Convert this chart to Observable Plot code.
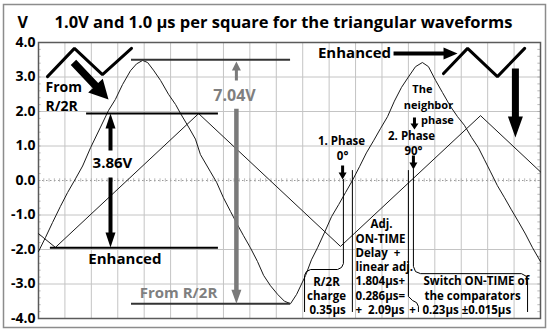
<!DOCTYPE html>
<html><head><meta charset="utf-8">
<script src="https://cdn.jsdelivr.net/npm/d3@7"></script>
<script src="https://cdn.jsdelivr.net/npm/@observablehq/plot@0.6"></script>
<style>body{margin:0;background:#fff}#chart{width:550px;height:332px}</style>
</head><body><div id="chart"></div>
<script>
// ---- data (time in µs, voltage in V) ----
const yTicks = [-4, -3, -2, -1, 0, 1, 2, 3, 4];
const xGrid = [0,1,2,3,4,5,6,7,8,9,10,11,12,13,14,15,16,17,18,19];
// enhanced triangular waveform
const triT = [0, 0.64, 6.06, 11.43, 16.73, 19];
const triV = [-1.54, -1.94, 1.94, -1.91, 1.88, 0.25];
// waveform from the R/2R network
const r2rT = [0,0.265,0.53,0.83,1.10,1.40,1.67,1.97,2.35,2.65,2.91,3.18,3.48,3.71,3.94,4.13,4.35,4.62,4.92,5.19,5.37,5.68,5.94,6.13,6.51,6.74,7.00,7.27,7.53,7.76,8.02,8.29,8.52,8.78,9.05,9.31,9.54,9.77,10.11,10.33,10.56,10.83,11.09,11.36,11.62,11.88,12.15,12.41,12.68,12.94,13.21,13.47,13.74,14.00,14.27,14.53,14.76,15.03,15.29,15.59,15.86,16.12,16.39,16.65,16.88,17.11,17.37,17.64,17.90,18.17,18.43,18.70,19.00];
const r2rV = [-2.06,-1.65,-1.22,-0.75,-0.35,0.05,0.42,0.95,1.55,2.03,2.35,2.78,3.18,3.38,3.48,3.42,3.2,2.9,2.5,2.2,1.95,1.55,1.2,0.75,0.25,-0.05,-0.5,-0.9,-1.28,-1.6,-1.95,-2.35,-2.75,-3.05,-3.3,-3.5,-3.57,-3.3,-2.75,-2.3,-1.95,-1.5,-1.05,-0.7,-0.35,0.0,0.4,0.8,1.15,1.5,1.85,2.3,2.7,3.0,3.3,3.42,3.3,2.9,2.55,2.15,1.85,1.6,1.25,0.95,0.6,0.25,-0.15,-0.5,-0.85,-1.2,-1.55,-1.95,-2.35];

// ---- annotations (positions in µs / V) ----
const levelLines = [
  {v: 3.50, t1: 3.52, t2: 9.54, c: "#333"},
  {v: -3.57, t1: 3.52, t2: 9.54, c: "#333"},
  {v: 1.94, t1: 1.82, t2: 6.81, c: "#000"},
  {v: -1.95, t1: 0.45, t2: 6.81, c: "#000"}
];
const zigL = {t: [0.34, 1.36, 2.42, 3.52], v: [3.01, 3.83, 3.07, 3.83]};
const zigR = {t: [15.33, 16.24, 17.37, 18.40], v: [3.10, 3.83, 3.01, 3.83]};
const brackets = [
  {t: [11.54, 11.54, 11.47, 11.32, 10.30, 10.14, 10.07, 10.07], v: [0.03, -2.41, -2.52, -2.58, -2.58, -2.64, -2.75, -3.80]},
  {t: [11.88, 11.88], v: [0.29, -3.80]},
  {t: [14.00, 14.00, 14.16, 14.31, 14.38, 14.38], v: [0.29, -3.36, -3.48, -3.54, -3.65, -3.80]},
  {t: [14.19, 14.19, 14.27, 14.46, 18.28, 18.47, 18.51, 18.51], v: [0.32, -2.49, -2.64, -2.70, -2.70, -2.78, -2.93, -3.80]}
];
const arrows = [
  {t: 2.65, v: 2.35, len: 51, rot: 136.6, sw: 7.5, hw: 10, hl: 19, c: "#000"},
  {t: 15.86, v: 3.68, len: 64, rot: 90, sw: 4, hw: 6, hl: 14, c: "#000"},
  {t: 18.05, v: 1.25, len: 69, rot: 180, sw: 7, hw: 7.5, hl: 21, c: "#000"},
  {t: 2.725, v: 1.94, len: 37, rot: 0, sw: 4, hw: 5, hl: 15, c: "#000"},
  {t: 2.725, v: -1.94, len: 70, rot: 180, sw: 4, hw: 5, hl: 15, c: "#000"},
  {t: 7.49, v: 3.45, len: 19, rot: 0, sw: 3, hw: 4.5, hl: 9, c: "#7a7a7a"},
  {t: 7.49, v: -3.57, len: 195, rot: 180, sw: 4.5, hw: 5, hl: 14, c: "#7a7a7a"},
  {t: 14.23, v: 1.48, len: 12, rot: 180, sw: 3, hw: 4, hl: 6, c: "#000"},
  {t: 14.19, v: 0.32, len: 14, rot: 180, sw: 3, hw: 4, hl: 7, c: "#000"},
  {t: 11.51, v: 0.03, len: 14, rot: 180, sw: 3, hw: 4, hl: 7, c: "#000"}
];
const labels = [
  {t: 0.265, v: 2.70, s: "From", fs: 14, a: "start", c: "#000"},
  {t: 0.265, v: 2.14, s: "R/2R", fs: 14, a: "start", c: "#000"},
  {t: 2.80, v: 0.49, s: "3.86V", fs: 15, a: "middle", c: "#000"},
  {t: 3.27, v: -2.29, s: "Enhanced", fs: 15, a: "middle", c: "#000"},
  {t: 7.42, v: 2.46, s: "7.04V", fs: 16, a: "middle", c: "#7f7f7f"},
  {t: 5.30, v: -3.28, s: "From R/2R", fs: 15, a: "middle", c: "#7f7f7f"},
  {t: 11.96, v: 3.68, s: "Enhanced", fs: 15, a: "middle", c: "#000"},
  {t: 14.53, v: 2.64, s: "The", fs: 11, a: "middle", c: "#000"},
  {t: 14.76, v: 2.17, s: "neighbor", fs: 11, a: "middle", c: "#000"},
  {t: 15.10, v: 1.73, s: "phase", fs: 11, a: "middle", c: "#000"},
  {t: 14.12, v: 1.27, s: "2. Phase", fs: 11.5, a: "middle", c: "#000"},
  {t: 14.19, v: 0.85, s: "90°", fs: 11.5, a: "middle", c: "#000"},
  {t: 11.47, v: 1.15, s: "1. Phase", fs: 11.5, a: "middle", c: "#000"},
  {t: 11.51, v: 0.71, s: "0°", fs: 11.5, a: "middle", c: "#000"},
  {t: 10.90, v: -2.96, s: "R/2R", fs: 11.5, a: "middle", c: "#000"},
  {t: 10.90, v: -3.36, s: "charge", fs: 11.5, a: "middle", c: "#000"},
  {t: 10.94, v: -3.77, s: "0.35µs", fs: 11.5, a: "middle", c: "#000"},
  {t: 12.98, v: -1.28, s: "Adj.", fs: 11.5, a: "middle", c: "#000"},
  {t: 12.00, v: -1.70, s: "ON-TIME", fs: 11.5, a: "start", c: "#000"},
  {t: 12.00, v: -2.10, s: "Delay  +", fs: 11.5, a: "start", c: "#000"},
  {t: 12.00, v: -2.52, s: "linear adj.", fs: 11.5, a: "start", c: "#000"},
  {t: 12.00, v: -2.93, s: "1.804µs+", fs: 11.5, a: "start", c: "#000"},
  {t: 12.00, v: -3.35, s: "0.286µs=", fs: 11.5, a: "start", c: "#000"},
  {t: 12.00, v: -3.77, s: "+  2.09µs", fs: 11.5, a: "start", c: "#000"},
  {t: 14.16, v: -3.77, s: "+", fs: 11.5, a: "middle", c: "#000"},
  {t: 14.57, v: -2.93, s: "Switch ON-TIME of", fs: 11.5, a: "start", c: "#000"},
  {t: 14.61, v: -3.35, s: "the comparators", fs: 11.5, a: "start", c: "#000"},
  {t: 14.53, v: -3.77, s: "0.23µs ±0.015µs", fs: 11.5, a: "start", c: "#000"}
];
const titleText = "1.0V and 1.0 µs per square for the triangular waveforms";
const unitText = "V";

// ---- build ----
const tri = triT.map((t, i) => ({t, v: triV[i]}));
const r2r = r2rT.map((t, i) => ({t, v: r2rV[i]}));
const toRows = (o) => o.t.map((t, i) => ({t, v: o.v[i]}));
function blockArrow(sw, hw, hl) {
  return {draw(ctx, l) {
    const b = -(l - hl);
    ctx.moveTo(-sw / 2, 0); ctx.lineTo(-sw / 2, b); ctx.lineTo(-hw, b); ctx.lineTo(0, -l);
    ctx.lineTo(hw, b); ctx.lineTo(sw / 2, b); ctx.lineTo(sw / 2, 0); ctx.closePath();
  }};
}
const minorV = d3.range(-40, 41, 2).map(d => d / 10);
const minorT = d3.range(0, 191, 2).map(d => d / 10);

const plot = Plot.plot({
  width: 550, height: 332,
  marginLeft: 38, marginRight: 10, marginTop: 42, marginBottom: 14,
  style: {fontFamily: "'Open Sans', sans-serif", fontSize: "14px", fontWeight: "700", background: "#fff", color: "#000"},
  x: {domain: [0, 19], axis: null},
  y: {domain: [-4, 4], ticks: yTicks, tickFormat: d => d.toFixed(1), tickSize: 0, tickPadding: 3, label: null},
  marks: [
    Plot.ruleX(xGrid.slice(1, -1), {stroke: "#c4c4c4", strokeWidth: 1}),
    Plot.ruleY(yTicks.filter(d => d !== 0 && Math.abs(d) !== 4), {stroke: "#c4c4c4", strokeWidth: 1}),
    Plot.ruleY([0], {stroke: "#999", strokeDasharray: "1.5,2.5"}),
    Plot.ruleX(minorT, {y1: -0.05, y2: 0.05, stroke: "#aaa", strokeWidth: 0.8}),
    Plot.ruleY(minorV, {x1: 0, x2: 0.1, stroke: "#aaa", strokeWidth: 0.8}),
    Plot.ruleY(minorV, {x1: 18.9, x2: 19, stroke: "#aaa", strokeWidth: 0.8}),
    Plot.frame({stroke: "#5a5a5a", strokeWidth: 1.5}),
    Plot.line(tri, {x: "t", y: "v", stroke: "#1a1a1a", strokeWidth: 1}),
    Plot.line(r2r, {x: "t", y: "v", stroke: "#1a1a1a", strokeWidth: 1}),
    Plot.ruleY(levelLines, {y: "v", x1: "t1", x2: "t2", stroke: "c", strokeWidth: 2}),
    Plot.line(toRows(zigL), {x: "t", y: "v", stroke: "#000", strokeWidth: 3, strokeLinejoin: "miter"}),
    Plot.line(toRows(zigR), {x: "t", y: "v", stroke: "#000", strokeWidth: 3, strokeLinejoin: "miter"}),
    ...brackets.map(b => Plot.line(toRows(b), {x: "t", y: "v", stroke: "#000", strokeWidth: 1, curve: "linear"})),
    ...arrows.map(a => Plot.vector([a], {x: "t", y: "v", length: a.len, rotate: a.rot, anchor: "end",
      shape: blockArrow(a.sw, a.hw, a.hl), fill: a.c, stroke: "none"})),
    ...labels.map(l => Plot.text([l], {x: "t", y: "v", text: "s", fontSize: l.fs, fontWeight: 700,
      textAnchor: l.a, fill: l.c})),
    Plot.text([unitText], {frameAnchor: "top-left", dx: -21, dy: -26, fontSize: 16, fontWeight: 700, fill: "#000"}),
    Plot.text([titleText], {frameAnchor: "top-left", dx: 16, dy: -26, textAnchor: "start", fontSize: 16.5, fontWeight: 700, fill: "#000"})
  ]
});
d3.select(plot).append("rect").attr("x", 3.5).attr("y", 4.5).attr("width", 542).attr("height", 323)
  .attr("fill", "none").attr("stroke", "#8c8c8c").attr("stroke-width", 1.5);
document.getElementById("chart").appendChild(plot);
</script>
</body></html>
